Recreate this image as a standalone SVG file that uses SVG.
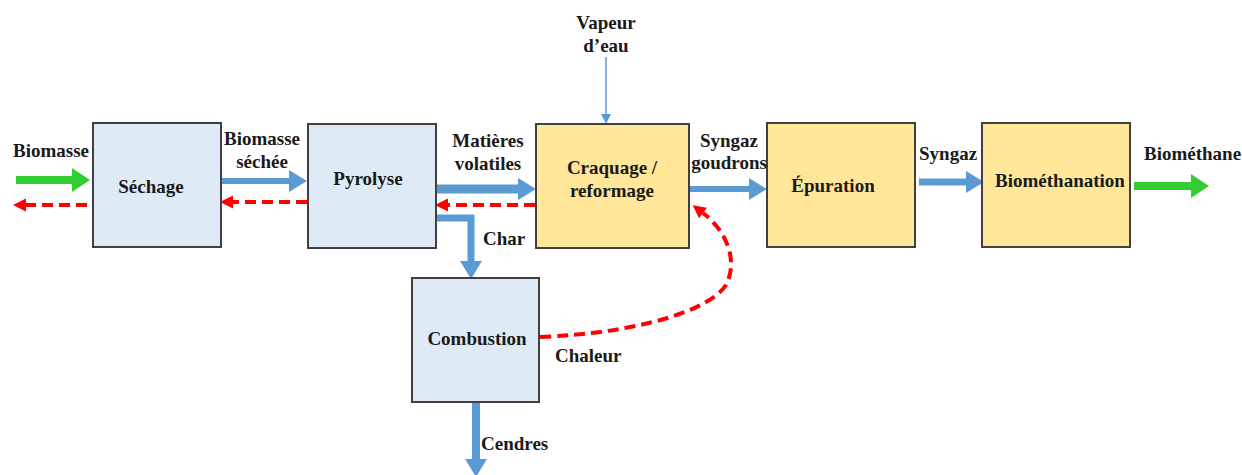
<svg xmlns="http://www.w3.org/2000/svg" width="1242" height="475" viewBox="0 0 1242 475">
<style>
.box{stroke:#404040;stroke-width:2}
.blue{fill:#DEEBF7}
.orange{fill:#FFE699}
.t{font-family:"Liberation Serif","Times New Roman",serif;font-weight:bold;font-size:19px;fill:#1a1a1a}
.m{text-anchor:middle}
.ab{fill:none;stroke:#5B9BD5;stroke-width:7;marker-end:url(#hb)}
.ag{fill:none;stroke:#33CC33;stroke-width:8;marker-end:url(#hg)}
.ar{fill:none;stroke:#FF0000;stroke-width:4;stroke-dasharray:11 6;marker-end:url(#hr)}
</style>
<defs>
<marker id="hb" markerUnits="userSpaceOnUse" markerWidth="18" markerHeight="22" refX="0" refY="11" orient="auto" overflow="visible"><path d="M0,0 L18,11 L0,22 z" fill="#5B9BD5"/></marker>
<marker id="hg" markerUnits="userSpaceOnUse" markerWidth="18" markerHeight="24" refX="0" refY="12" orient="auto" overflow="visible"><path d="M0,0 L18,12 L0,24 z" fill="#33CC33"/></marker>
<marker id="hr" markerUnits="userSpaceOnUse" markerWidth="13" markerHeight="13" refX="0" refY="6.5" orient="auto" overflow="visible"><path d="M0,0 L13,6.5 L0,13 z" fill="#FF0000"/></marker>
<marker id="ht" markerUnits="userSpaceOnUse" markerWidth="10" markerHeight="10" refX="0" refY="5" orient="auto" overflow="visible"><path d="M0,0 L10,5 L0,10 z" fill="#5B9BD5"/></marker>
</defs>

<g id="connectors">
<line class="ag" x1="16" y1="180" x2="72" y2="180"/>
<line class="ar" x1="87" y1="205" x2="26" y2="205"/>
<line class="ab" x1="222" y1="181" x2="289" y2="181" style="stroke-width:6"/>
<line class="ar" x1="307" y1="202" x2="233" y2="202"/>
<line class="ab" x1="436" y1="189" x2="518" y2="189" style="stroke-width:9"/>
<line class="ar" x1="535" y1="205" x2="448" y2="205"/>
<path class="ab" d="M436,218 H471 V261"/>
<line x1="606" y1="57" x2="606" y2="114" stroke="#5B9BD5" stroke-width="1.5" marker-end="url(#ht)"/>
<line class="ab" x1="689" y1="189" x2="749" y2="189" style="stroke-width:6"/>
<line class="ab" x1="919" y1="182" x2="966" y2="182"/>
<line class="ag" x1="1134" y1="186" x2="1191" y2="186"/>
<line class="ab" x1="476" y1="402" x2="476" y2="459" style="stroke-width:8"/>
<path class="ar" d="M540,337 C640,333 710,310 726,285 C738,262 728,232 703,213"/>
</g>

<g id="sechage">
<rect class="box blue" x="93" y="123" width="128" height="124"/>
<text class="t m" x="151" y="193">Séchage</text>
</g>
<g id="pyrolyse">
<rect class="box blue" x="308" y="124" width="128" height="124"/>
<text class="t m" x="368" y="185">Pyrolyse</text>
</g>
<g id="craquage">
<rect class="box orange" x="536" y="124" width="153" height="124"/>
<text class="t m" x="612" y="174">Craquage /</text>
<text class="t m" x="612" y="197">reformage</text>
</g>
<g id="epuration">
<rect class="box orange" x="767" y="123" width="148" height="124"/>
<text class="t m" x="833" y="192">Épuration</text>
</g>
<g id="biomethanation">
<rect class="box orange" x="982" y="123" width="148" height="124"/>
<text class="t m" x="1060" y="187">Biométhanation</text>
</g>
<g id="combustion">
<rect class="box blue" x="412" y="278" width="127" height="124"/>
<text class="t m" x="477" y="345">Combustion</text>
</g>

<g id="labels">
<text class="t" x="13" y="157">Biomasse</text>
<text class="t m" x="262" y="145">Biomasse</text>
<text class="t m" x="262" y="168">séchée</text>
<text class="t m" x="488" y="147">Matières</text>
<text class="t m" x="488" y="170">volatiles</text>
<text class="t m" x="606" y="29">Vapeur</text>
<text class="t m" x="606" y="52">d’eau</text>
<text class="t" x="483" y="245">Char</text>
<text class="t m" x="729" y="147">Syngaz</text>
<text class="t m" x="729" y="169">goudrons</text>
<text class="t" x="919" y="160">Syngaz</text>
<text class="t" x="1144" y="160">Biométhane</text>
<text class="t" x="555" y="362">Chaleur</text>
<text class="t" x="481" y="450">Cendres</text>
</g>
</svg>
